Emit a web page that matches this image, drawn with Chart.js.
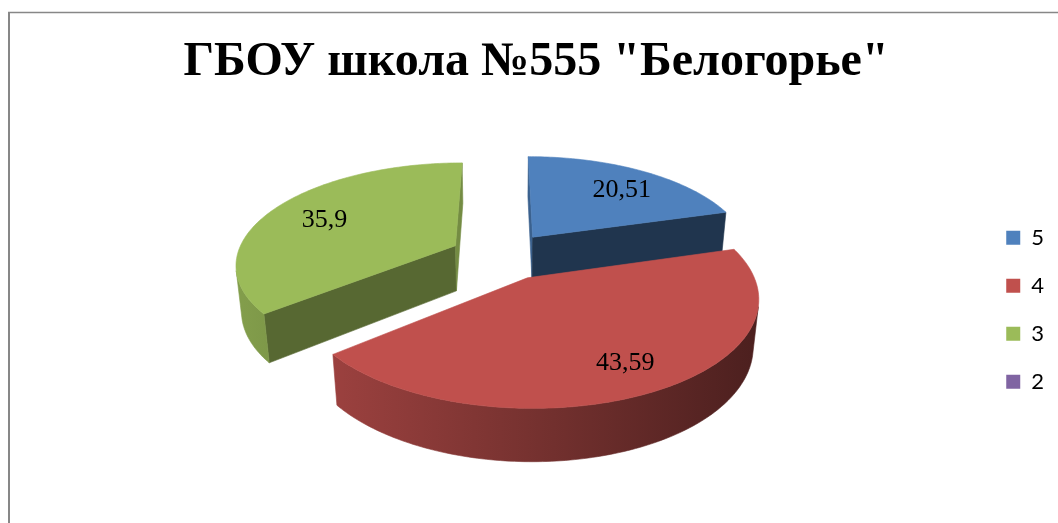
<!DOCTYPE html>
<html>
<head>
<meta charset="utf-8">
<script src="https://cdn.jsdelivr.net/npm/chart.js@4.4.1/dist/chart.umd.min.js"></script>
<style>
  html, body { margin: 0; padding: 0; background: #fff; }
</style>
</head>
<body>
<canvas id="marksChart" width="1058" height="523"></canvas>
<script>
const chartTitle = 'ГБОУ школа №555 "Белогорье"';
const grades = ['5', '4', '3', '2'];
const shares = [20.51, 43.59, 35.9, 0];
const sliceColors = ['#4F81BD', '#C0504D', '#9BBB59', '#8064A2'];

// look of the Excel-style 3D exploded pie
const view = {
    tilt: 27.2 * Math.PI / 180,
    distance: 5.25,     // camera distance, in pie radii
    thickness: 0.24,
    explode: 0.24,
    labelRadius: 0.75,
    labelNudge: [5, 4],
    shiftX: 3,
    shiftY: -54,
    zoom: 1.026
};

function shade(hex, f) {
    const n = parseInt(hex.slice(1), 16);
    const r = Math.min(255, Math.round(((n >> 16) & 255) * f));
    const g = Math.min(255, Math.round(((n >> 8) & 255) * f));
    const b = Math.min(255, Math.round((n & 255) * f));
    return `rgb(${r},${g},${b})`;
}

function makeProjector(cx, cy, k) {
    const c = Math.cos(view.tilt), s = Math.sin(view.tilt);
    return (x, y, z) => {
        const w = 1 + (y * c - z * s) / view.distance;
        return [cx + k * x / w, cy - k * (y * s + z * c) / w];
    };
}

function signedArea(pts) {
    let area = 0;
    for (let i = 0; i < pts.length; i++) {
        const a = pts[i], b = pts[(i + 1) % pts.length];
        area += a[0] * b[1] - b[0] * a[1];
    }
    return area;
}

function fillPoly(ctx, pts, fill) {
    ctx.beginPath();
    ctx.moveTo(pts[0][0], pts[0][1]);
    for (let i = 1; i < pts.length; i++) ctx.lineTo(pts[i][0], pts[i][1]);
    ctx.closePath();
    ctx.fillStyle = fill;
    ctx.strokeStyle = fill;
    ctx.lineWidth = 0.6;
    ctx.fill();
    ctx.stroke();
}

function sliceOffset(arc) {
    const mid = (arc.startAngle + arc.endAngle) / 2;
    return [view.explode * Math.cos(mid), -view.explode * Math.sin(mid)];
}

function drawSlice(ctx, P, arc, color) {
    const a0 = arc.startAngle, a1 = arc.endAngle;
    const [ox, oy] = sliceOffset(arc);
    const h = view.thickness;
    const at = (a, z) => P(ox + Math.cos(a), oy - Math.sin(a), z);
    const steps = Math.max(6, Math.ceil((a1 - a0) / (Math.PI / 180)));
    const ang = i => a0 + (a1 - a0) * i / steps;
    const cTop = P(ox, oy, 0), cBot = P(ox, oy, -h);
    const wallTone = ny => Math.max(0.35, Math.min(0.75, 1.17 + 0.79 * ny));

    // cut walls, only the ones turned to the viewer
    const walls = [
        [[cTop, cBot, at(a0, -h), at(a0, 0)], Math.cos(a0)],
        [[cTop, at(a1, 0), at(a1, -h), cBot], -Math.cos(a1)]
    ];
    walls.forEach(([pts, ny]) => {
        if (signedArea(pts) > 0) fillPoly(ctx, pts, shade(color, wallTone(ny)));
    });

    // outer rim: visible stretch as one band, lit from the left
    const runs = [];
    let run = [];
    for (let i = 0; i < steps; i++) {
        const quad = [at(ang(i), 0), at(ang(i), -h), at(ang(i + 1), -h), at(ang(i + 1), 0)];
        if (signedArea(quad) > 0) run.push(i);
        else if (run.length) { runs.push(run); run = []; }
    }
    if (run.length) runs.push(run);
    const xl = P(ox - 1, oy, -h / 2)[0], xr = P(ox + 1, oy, -h / 2)[0];
    runs.forEach(r => {
        const first = r[0], last = r[r.length - 1] + 1;
        const pts = [];
        for (let i = first; i <= last; i++) pts.push(at(ang(i), 0));
        for (let i = last; i >= first; i--) pts.push(at(ang(i), -h));
        const grad = ctx.createLinearGradient(xl, 0, xr, 0);
        grad.addColorStop(0, shade(color, 0.84));
        grad.addColorStop(0.5, shade(color, 0.62));
        grad.addColorStop(1, shade(color, 0.40));
        fillPoly(ctx, pts, grad);
    });

    // top
    const top = [cTop];
    for (let i = 0; i <= steps; i++) top.push(at(ang(i), 0));
    fillPoly(ctx, top, color);
}

const pie3d = {
    id: 'pie3d',
    beforeDatasetDraw(chart, args) {
        const ctx = chart.ctx;
        const arcs = args.meta.data;
        const ref = arcs[0];
        const P = makeProjector(ref.x + view.shiftX, ref.y + view.shiftY, ref.outerRadius * view.zoom);
        const order = arcs
            .map((arc, i) => ({ arc, i }))
            .filter(o => o.arc.endAngle - o.arc.startAngle > 1e-6)
            .sort((p, q) => sliceOffset(q.arc)[1] - sliceOffset(p.arc)[1]);

        ctx.save();
        order.forEach(o => drawSlice(ctx, P, o.arc, sliceColors[o.i]));

        ctx.fillStyle = '#000';
        ctx.font = '26px "Liberation Serif", "Times New Roman", serif';
        ctx.textAlign = 'center';
        ctx.textBaseline = 'middle';
        order.forEach(o => {
            const mid = (o.arc.startAngle + o.arc.endAngle) / 2;
            const [ox, oy] = sliceOffset(o.arc);
            const r = view.labelRadius;
            const p = P(ox + r * Math.cos(mid), oy - r * Math.sin(mid), 0);
            ctx.fillText(String(shares[o.i]).replace('.', ','), p[0] + view.labelNudge[0], p[1] + view.labelNudge[1]);
        });
        ctx.restore();
        return false;
    }
};

const frame = {
    id: 'frame',
    beforeDraw(chart) {
        const ctx = chart.ctx;
        ctx.save();
        ctx.strokeStyle = '#878787';
        ctx.lineWidth = 1.5;
        ctx.beginPath();
        ctx.moveTo(8, 12.5);
        ctx.lineTo(chart.width, 12.5);
        ctx.stroke();
        ctx.lineWidth = 2;
        ctx.beginPath();
        ctx.moveTo(9, 12);
        ctx.lineTo(9, chart.height);
        ctx.stroke();
        ctx.restore();
    }
};

new Chart(document.getElementById('marksChart'), {
    type: 'pie',
    data: {
        labels: grades,
        datasets: [{
            data: shares,
            backgroundColor: sliceColors,
            borderWidth: 0
        }]
    },
    options: {
        responsive: false,
        animation: false,
        layout: { padding: { left: 18, right: 4, top: 0, bottom: 0 } },
        plugins: {
            title: {
                display: true,
                text: chartTitle,
                color: '#000',
                font: { family: '"Liberation Serif", "Times New Roman", serif', size: 48, weight: 'bold', lineHeight: 1.2 },
                padding: { top: 34, bottom: 5 }
            },
            legend: {
                position: 'right',
                fullSize: false,
                labels: {
                    boxWidth: 14,
                    boxHeight: 14,
                    padding: 26,
                    color: '#000',
                    font: { family: 'Lato', size: 22 }
                }
            },
            tooltip: { enabled: false }
        }
    },
    plugins: [frame, pie3d]
});
</script>
</body>
</html>
